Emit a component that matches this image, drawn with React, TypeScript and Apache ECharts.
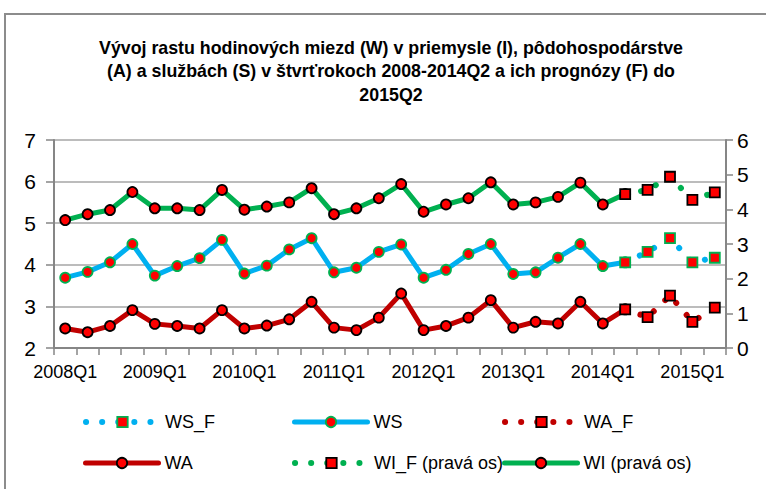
import React, { useEffect, useRef } from "react";
import * as echarts from "echarts";

const categories = [
  "2008Q1", "2008Q2", "2008Q3", "2008Q4",
  "2009Q1", "2009Q2", "2009Q3", "2009Q4",
  "2010Q1", "2010Q2", "2010Q3", "2010Q4",
  "2011Q1", "2011Q2", "2011Q3", "2011Q4",
  "2012Q1", "2012Q2", "2012Q3", "2012Q4",
  "2013Q1", "2013Q2", "2013Q3", "2013Q4",
  "2014Q1", "2014Q2", "2014Q3", "2014Q4",
  "2015Q1", "2015Q2",
];

const N = null;
const wsActual = [3.69, 3.83, 4.06, 4.5, 3.74, 3.97, 4.16, 4.6, 3.79, 3.98, 4.37, 4.64, 3.82, 3.93, 4.31, 4.49, 3.69, 3.88, 4.26, 4.5, 3.78, 3.82, 4.17, 4.5, 3.97, 4.06, N, N, N, N];
const wsForecast = [N, N, N, N, N, N, N, N, N, N, N, N, N, N, N, N, N, N, N, N, N, N, N, N, N, 4.06, 4.31, 4.64, 4.06, 4.17];
const waActual = [2.47, 2.38, 2.53, 2.91, 2.58, 2.53, 2.47, 2.91, 2.47, 2.54, 2.69, 3.11, 2.49, 2.43, 2.73, 3.31, 2.43, 2.53, 2.73, 3.15, 2.49, 2.63, 2.59, 3.11, 2.59, 2.93, N, N, N, N];
const waForecast = [N, N, N, N, N, N, N, N, N, N, N, N, N, N, N, N, N, N, N, N, N, N, N, N, N, 2.93, 2.74, 3.26, 2.63, 2.97];
const wiActual = [3.69, 3.86, 3.98, 4.5, 4.03, 4.03, 3.98, 4.56, 3.99, 4.08, 4.2, 4.61, 3.86, 4.03, 4.32, 4.73, 3.93, 4.14, 4.32, 4.78, 4.14, 4.2, 4.36, 4.77, 4.14, 4.44, N, N, N, N];
const wiForecast = [N, N, N, N, N, N, N, N, N, N, N, N, N, N, N, N, N, N, N, N, N, N, N, N, N, 4.44, 4.56, 4.94, 4.27, 4.49];

const leftTicks = { min: 2, max: 7, interval: 1 };
const rightTicks = { min: 0, max: 6, interval: 1 };

const titleText =
  "Vývoj rastu hodinových miezd (W) v priemysle (I), pôdohospodárstve\n(A) a službách (S) v štvrťrokoch 2008-2014Q2 a ich prognózy (F) do\n2015Q2";

const FONT = "'Liberation Sans', Arial, sans-serif";
const BLUE = "#00B0F0";
const DRED = "#C00000";
const GREEN = "#00B050";
const RED = "#FF0000";
const AXIS = "#868686";
const DOT: number[] = [0.1, 16];

export default function App() {
  const ref = useRef<HTMLDivElement>(null);
  useEffect(() => {
    if (!ref.current) return;
    const chart = echarts.init(ref.current, undefined, { renderer: "svg" });

    const mk = (name: string, data: any[], axis: number, color: string, dotted: boolean, border: string) => ({
      name,
      type: "line",
      yAxisIndex: axis,
      data,
      z: dotted ? 4 : 3,
      symbol: dotted ? "rect" : "circle",
      symbolSize: 10,
      showSymbol: true,
      showAllSymbol: true,
      connectNulls: false,
      lineStyle: { color, width: dotted ? 6 : 5, type: dotted ? DOT : "solid", cap: "round" },
      itemStyle: { color: RED, borderColor: border, borderWidth: 1.8 },
      emphasis: { disabled: true },
    });

    const leg = (name: string, left: number, top: number, color: string, dotted: boolean, border: string) => ({
      data: [name],
      left,
      top,
      padding: 0,
      itemWidth: 73,
      itemHeight: 13,
      itemGap: 6,
      textStyle: { fontSize: 18, fontFamily: FONT, color: "#000", padding: [0, 0, 0, 1] },
      lineStyle: { color, width: dotted ? 6 : 5, type: dotted ? DOT : "solid", cap: "round" },
      itemStyle: { color: RED, borderColor: border, borderWidth: 1.8 },
    });

    chart.setOption({
      animation: false,
      backgroundColor: "#fff",
      textStyle: { fontFamily: FONT },
      title: {
        text: titleText,
        left: 391,
        top: 36,
        padding: 0,
        textAlign: "center",
        textStyle: { fontSize: 17.8, fontWeight: "bold", fontFamily: FONT, lineHeight: 23.5, color: "#000" },
      },
      graphic: [
        {
          type: "rect",
          shape: { x: 5, y: 14, width: 900, height: 600 },
          style: { fill: "none", stroke: "#8c8c8c", lineWidth: 2 },
          silent: true,
        },
      ],
      legend: [
        leg("WS_F", 83, 413, BLUE, true, GREEN),
        leg("WS", 292, 413, BLUE, false, GREEN),
        leg("WA_F", 502, 413, DRED, true, "#000"),
        leg("WA", 83, 454, DRED, false, "#000"),
        leg("WI_F (pravá os)", 292, 454, GREEN, true, "#000"),
        leg("WI (pravá os)", 502, 454, GREEN, false, "#000"),
      ],
      grid: { left: 54, right: 40, top: 140, bottom: 141 },
      xAxis: {
        type: "category",
        data: categories,
        boundaryGap: true,
        axisLine: { lineStyle: { color: AXIS, width: 2 } },
        axisTick: { show: true, interval: 0, length: 7, lineStyle: { color: AXIS, width: 1.5 } },
        axisLabel: { interval: 3, fontSize: 18, fontFamily: FONT, color: "#000", margin: 15 },
        splitLine: { show: false },
      },
      yAxis: [
        {
          type: "value",
          position: "left",
          ...leftTicks,
          axisLine: { show: true, lineStyle: { color: AXIS, width: 2 } },
          axisTick: { show: true, length: 8, lineStyle: { color: AXIS, width: 1.5 } },
          axisLabel: { fontSize: 21, fontFamily: FONT, color: "#000", margin: 18 },
          splitLine: { show: true, lineStyle: { color: "#a6a6a6", width: 1.5 } },
        },
        {
          type: "value",
          position: "right",
          ...rightTicks,
          axisLine: { show: true, lineStyle: { color: AXIS, width: 2 } },
          axisTick: { show: true, length: 7, lineStyle: { color: AXIS, width: 1.5 } },
          axisLabel: { fontSize: 21, fontFamily: FONT, color: "#000", margin: 11 },
          splitLine: { show: false },
        },
      ],
      series: [
        mk("WS_F", wsForecast, 0, BLUE, true, GREEN),
        mk("WS", wsActual, 0, BLUE, false, GREEN),
        mk("WA_F", waForecast, 0, DRED, true, "#000"),
        mk("WA", waActual, 0, DRED, false, "#000"),
        mk("WI_F (pravá os)", wiForecast, 1, GREEN, true, "#000"),
        mk("WI (pravá os)", wiActual, 1, GREEN, false, "#000"),
      ],
    });
    return () => chart.dispose();
  }, []);
  return <div ref={ref} style={{ position: "fixed", left: 0, top: 0, width: 766, height: 489 }} />;
}
